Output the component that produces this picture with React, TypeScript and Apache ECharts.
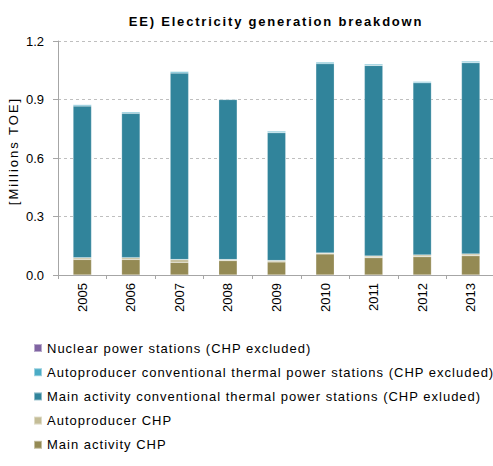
import React, { useEffect, useRef } from "react";
import * as echarts from "echarts";

const years = ["2005", "2006", "2007", "2008", "2009", "2010", "2011", "2012", "2013"];
const mainChp = [0.080, 0.080, 0.065, 0.074, 0.067, 0.108, 0.089, 0.094, 0.099];
const autoChp = [0.008, 0.009, 0.014, 0.005, 0.007, 0.005, 0.008, 0.009, 0.009];
const mainThermal = [0.779, 0.740, 0.957, 0.821, 0.656, 0.971, 0.978, 0.883, 0.981];
const autoThermal = [0.007, 0.007, 0.008, 0.003, 0.008, 0.008, 0.007, 0.007, 0.008];
const nuclear = [0, 0, 0, 0, 0, 0, 0, 0, 0];
const yTicks = [0, 0.3, 0.6, 0.9, 1.2];

const FONT = "Liberation Sans, Arial, sans-serif";
const FONT_LEGEND = "Liberation Sans, LgdSpace, sans-serif";
const FONT_TITLE = "Liberation Sans, TtlSpace, sans-serif";
const FONT_YNAME = "Liberation Sans, YnmSpace, sans-serif";

const css = `
text[style*="LgdSpace"], text[font-family*="LgdSpace"] { letter-spacing: 1px; }
text[style*="TtlSpace"], text[font-family*="TtlSpace"] { letter-spacing: 1.8px; }
text[style*="YnmSpace"], text[font-family*="YnmSpace"] { letter-spacing: 2px; }
`;

export default function App() {
  const ref = useRef<HTMLDivElement>(null);
  useEffect(() => {
    if (!ref.current) return;
    const chart = echarts.init(ref.current, undefined, { renderer: "svg" });
    const mk = (name: string, data: number[], color: string) => ({
      name,
      type: "bar",
      stack: "total",
      data,
      barWidth: "38%",
      itemStyle: { color, borderColor: "rgba(255,255,255,0.45)", borderWidth: 0.5 },
    });
    const legendOrder = [
      "Nuclear power stations (CHP excluded)",
      "Autoproducer conventional thermal power stations (CHP excluded)",
      "Main activity conventional thermal power stations (CHP exluded)",
      "Autoproducer CHP",
      "Main activity CHP",
    ];
    chart.setOption({
      animation: false,
      title: {
        text: "EE) Electricity generation breakdown",
        left: 271,
        textAlign: "center",
        top: 10,
        textStyle: { fontFamily: FONT_TITLE, fontSize: 13, fontWeight: "bold", color: "#000" },
      },
      grid: { left: 58, top: 41, width: 437, height: 234, outerBoundsMode: "none", containLabel: false },
      legend: {
        orient: "vertical",
        left: 28,
        top: 336,
        itemWidth: 8,
        itemHeight: 8,
        itemGap: 10.2,
        icon: "rect",
        data: legendOrder,
        textStyle: { fontFamily: FONT_LEGEND, fontSize: 13, color: "#000", lineHeight: 14 },
      },
      xAxis: {
        type: "category",
        data: years,
        axisLine: { lineStyle: { color: "#a6a6a6" } },
        axisTick: { show: true, length: 4, lineStyle: { color: "#a6a6a6" } },
        axisLabel: { rotate: 90, fontFamily: FONT, fontSize: 13, color: "#000", margin: 8 },
      },
      yAxis: {
        type: "value",
        min: 0,
        max: 1.2,
        interval: 0.3,
        name: "[Millions TOE]",
        nameLocation: "middle",
        nameGap: 38,
        nameMoveOverlap: false,
        nameTextStyle: { fontFamily: FONT_YNAME, fontSize: 13, color: "#000", padding: [0, 0, 0, 14] },
        axisLine: { show: true, lineStyle: { color: "#a6a6a6" } },
        axisTick: { show: true, length: 5, lineStyle: { color: "#a6a6a6" } },
        axisLabel: {
          fontFamily: FONT,
          fontSize: 13,
          color: "#000",
          margin: 14,
          formatter: (v: number) => (yTicks.includes(Math.round(v * 10) / 10) ? v.toFixed(1) : ""),
        },
        splitLine: { lineStyle: { color: "#bfbfbf", type: [3, 3] } },
      },
      series: [
        mk("Main activity CHP", mainChp, "#948a54"),
        mk("Autoproducer CHP", autoChp, "#c4bd97"),
        mk("Main activity conventional thermal power stations (CHP exluded)", mainThermal, "#31849b"),
        mk("Autoproducer conventional thermal power stations (CHP excluded)", autoThermal, "#4bacc6"),
        mk("Nuclear power stations (CHP excluded)", nuclear, "#8064a2"),
      ],
    });
    return () => chart.dispose();
  }, []);
  return (
    <>
      <style>{css}</style>
      <div ref={ref} style={{ position: "absolute", left: 0, top: 0, width: 493, height: 466 }} />
    </>
  );
}
